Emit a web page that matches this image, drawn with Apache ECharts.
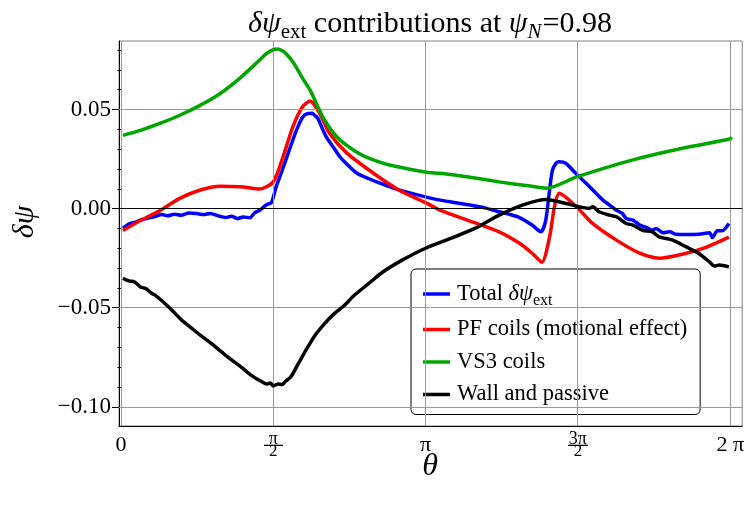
<!DOCTYPE html>
<html>
<head>
<meta charset="utf-8">
<script src="https://cdn.jsdelivr.net/npm/echarts@6/dist/echarts.min.js"></script>
<style>html,body{margin:0;padding:0;background:#fff}#c{width:747px;height:507px}</style>
</head>
<body>
<div id="c"></div>
<script>
// ---- data (theta in radians, value = delta psi) ----
const totalTheta = [0.02,0.08,0.15,0.22,0.28,0.35,0.42,0.48,0.55,0.62,0.70,0.78,0.85,0.92,1.00,1.08,1.14,1.20,1.26,1.33,1.38,1.43,1.50,1.55,1.60,1.66,1.71,1.76,1.81,1.87,1.92,1.97,2.00,2.03,2.08,2.12,2.19,2.26,2.35,2.43,2.55,2.67,2.80,2.95,3.15,3.29,3.45,3.60,3.75,3.90,4.00,4.11,4.24,4.33,4.38,4.42,4.45,4.49,4.52,4.59,4.69,4.80,4.90,4.97,5.04,5.11,5.17,5.21,5.28,5.35,5.42,5.48,5.52,5.59,5.66,5.72,5.83,5.96,6.07,6.10,6.15,6.20,6.27];
const totalVals = [-0.0098,-0.0078,-0.0068,-0.0055,-0.0048,-0.0040,-0.0030,-0.0036,-0.0028,-0.0033,-0.0022,-0.0025,-0.0030,-0.0024,-0.0036,-0.0045,-0.0038,-0.0050,-0.0042,-0.0046,-0.0020,-0.0008,0.0020,0.0030,0.0110,0.0190,0.0260,0.0330,0.0396,0.0460,0.0480,0.0482,0.0470,0.0455,0.0400,0.0360,0.0310,0.0260,0.0215,0.0180,0.0152,0.0129,0.0105,0.0083,0.0058,0.0043,0.0030,0.0018,0.0004,-0.0016,-0.0028,-0.0045,-0.0083,-0.0117,-0.0060,0.0093,0.0194,0.0231,0.0236,0.0228,0.0178,0.0127,0.0077,0.0043,0.0018,-0.0008,-0.0024,-0.0050,-0.0058,-0.0083,-0.0095,-0.0109,-0.0100,-0.0122,-0.0117,-0.0129,-0.0130,-0.0129,-0.0122,-0.0146,-0.0112,-0.0112,-0.0075];

const pfTheta = [0.02,0.20,0.40,0.61,0.81,1.02,1.23,1.43,1.57,1.67,1.77,1.87,1.95,2.05,2.15,2.33,2.60,2.87,3.15,3.29,3.60,3.90,4.11,4.24,4.34,4.42,4.47,4.52,4.70,4.86,5.11,5.35,5.55,5.83,6.04,6.27];
const pfVals = [-0.0110,-0.0060,-0.0010,0.0053,0.0093,0.0113,0.0110,0.0099,0.0135,0.0260,0.0410,0.0513,0.0543,0.0480,0.0380,0.0280,0.0180,0.0093,0.0028,-0.0008,-0.0063,-0.0117,-0.0175,-0.0225,-0.0270,-0.0143,0.0008,0.0078,0.0008,-0.0073,-0.0159,-0.0225,-0.0250,-0.0225,-0.0194,-0.0144];

const vs3Theta = [0.02,0.20,0.40,0.60,0.81,1.02,1.23,1.43,1.50,1.56,1.61,1.66,1.71,1.78,1.87,1.95,2.02,2.08,2.17,2.26,2.40,2.53,2.77,3.15,3.29,3.60,3.90,4.20,4.39,4.70,5.27,5.79,6.27,6.30];
const vs3Vals = [0.0370,0.0395,0.0430,0.0470,0.0520,0.0580,0.0660,0.0750,0.0782,0.0800,0.0805,0.0798,0.0778,0.0735,0.0660,0.0598,0.0525,0.0464,0.0395,0.0346,0.0295,0.0260,0.0220,0.0184,0.0178,0.0158,0.0135,0.0115,0.0103,0.0160,0.0245,0.0305,0.0350,0.0360];

const wallTheta = [0.02,0.08,0.14,0.20,0.26,0.31,0.36,0.41,0.52,0.62,0.72,0.82,0.93,1.03,1.13,1.24,1.34,1.44,1.50,1.54,1.57,1.62,1.66,1.70,1.75,1.82,1.90,2.00,2.10,2.20,2.30,2.40,2.55,2.70,2.90,3.14,3.40,3.65,3.90,4.14,4.385,4.59,4.83,4.865,4.93,5.04,5.11,5.21,5.28,5.38,5.48,5.55,5.69,5.83,5.96,6.07,6.12,6.17,6.27];
const wallVals = [-0.0351,-0.0365,-0.0370,-0.0395,-0.0405,-0.0425,-0.0440,-0.0460,-0.0510,-0.0560,-0.0600,-0.0640,-0.0680,-0.0720,-0.0760,-0.0800,-0.0840,-0.0870,-0.0885,-0.0880,-0.0895,-0.0885,-0.0888,-0.0870,-0.0850,-0.0790,-0.0720,-0.0640,-0.0580,-0.0530,-0.0490,-0.0440,-0.0380,-0.0320,-0.0260,-0.0200,-0.0150,-0.0100,-0.0033,0.0018,0.0046,0.0026,0.0001,0.0009,-0.0016,-0.0033,-0.0041,-0.0075,-0.0083,-0.0109,-0.0117,-0.0142,-0.0159,-0.0193,-0.0226,-0.0269,-0.0290,-0.0285,-0.0294];

const seriesNames = ['Total δψext','PF coils (motional effect)','VS3 coils','Wall and passive'];
const xTickValues = [0, Math.PI/2, Math.PI, 3*Math.PI/2, 2*Math.PI];
const xTickLabels = ['0','π/2','π','3π/2','2 π'];
const yTickValues = [-0.10,-0.05,0.00,0.05];
const yMinorTicks = [-0.11,-0.09,-0.08,-0.07,-0.06,-0.04,-0.03,-0.02,-0.01,0.01,0.02,0.03,0.04,0.06,0.07,0.08];

const zip = (a,b) => a.map((t,i)=>[t,b[i]]);
const serif = 'Liberation Serif';

// small image used as the fraction bar under a numerator
const barImg = document.createElement('canvas');
barImg.width = 20; barImg.height = 14;
(function(){ const g = barImg.getContext('2d'); g.fillStyle = '#000'; g.fillRect(0, 13, 20, 1); })();

function xLabel(v){
  let idx = 0, best = 1e9;
  xTickValues.forEach((t,i)=>{ const d=Math.abs(t-v); if(d<best){best=d;idx=i;} });
  const s = xTickLabels[idx];
  if (s.indexOf('/')>=0){
    const p = s.split('/');
    return '{num|'+p[0]+'}\n{den|'+p[1]+'}';
  }
  return '{r|'+s+'}';
}

const chart = echarts.init(document.getElementById('c'), null, {renderer:'canvas'});
const lineW = 3.5;
const mk = (name, th, vals, color, z) => ({
  name, type:'line', data: zip(th, vals), showSymbol:false, symbol:'none',
  lineStyle:{color, width:lineW}, itemStyle:{color}, smooth:0.25, z, animation:false,
  emphasis:{disabled:true}
});
const gridColor = '#9a9a9a';
chart.setOption({
  animation:false,
  textStyle:{fontFamily:serif},
  grid:{left:119, right:4, top:41, bottom:81, show:true, borderColor:'#808080', borderWidth:1, backgroundColor:'transparent'},
  title:{
    text:'{i|δψ}{s|ext}{a| contributions at }{i|ψ}{si|N}{a|=0.98}',
    left:430, top:6, padding:0, textAlign:'center',
    textStyle:{
      fontFamily:serif, fontWeight:'normal', color:'#000',
      rich:{
        a:{fontFamily:serif, fontSize:30, lineHeight:36, color:'#000'},
        i:{fontFamily:serif, fontSize:30, lineHeight:36, fontStyle:'italic', color:'#000'},
        s:{fontFamily:serif, fontSize:21, lineHeight:36, verticalAlign:'top', padding:[16,0,0,0], color:'#000'},
        si:{fontFamily:serif, fontSize:21, lineHeight:36, fontStyle:'italic', verticalAlign:'top', padding:[16,1,0,0], color:'#000'}
      }
    }
  },
  legend:{
    orient:'vertical', left:411, top:269,
    data: seriesNames,
    icon:'rect', itemWidth:27, itemHeight:3.5, itemGap:8.5,
    padding:[13,13,8,12],
    backgroundColor:'#fff', borderColor:'#000', borderWidth:1, borderRadius:5,
    selectedMode:false,
    formatter:function(n){
      if(n===seriesNames[0]) return '{a|Total }{i|δψ}{s|ext}';
      return '{a|'+n+'}';
    },
    textStyle:{
      fontFamily:serif, fontSize:22.5, color:'#000', lineHeight:24, padding:[0,0,0,2],
      rich:{
        a:{fontFamily:serif, fontSize:22.5, lineHeight:24, color:'#000'},
        i:{fontFamily:serif, fontSize:22.5, lineHeight:24, fontStyle:'italic', color:'#000'},
        s:{fontFamily:serif, fontSize:16, lineHeight:24, verticalAlign:'top', padding:[11,0,0,0], color:'#000'}
      }
    }
  },
  xAxis:{
    type:'value', min:-0.021, max:6.407,
    axisLine:{show:true, onZero:false, lineStyle:{color:'#000', width:1}},
    axisTick:{show:false},
    splitLine:{show:false},
    axisLabel:{
      customValues: xTickValues, margin:8, color:'#000', fontFamily:serif,
      formatter: xLabel,
      rich:{
        r:{fontFamily:serif, fontSize:22, color:'#000'},
        num:{fontFamily:serif, fontSize:18, lineHeight:11, height:11, color:'#000', align:'center', padding:[0,1,1,1], backgroundColor:{image:barImg}},
        den:{fontFamily:serif, fontSize:17, lineHeight:13, color:'#000', align:'center'}
      }
    }
  },
  yAxis:[{
    type:'value', min:-0.1097, max:0.0846,
    axisLine:{show:true, onZero:false, lineStyle:{color:'#000', width:1}},
    axisTick:{show:true, customValues:yTickValues, length:7, inside:false, lineStyle:{color:'#000'}},
    splitLine:{show:false},
    axisLabel:{
      customValues:yTickValues, margin:8, color:'#000', fontFamily:serif, fontSize:23,
      formatter:function(v){ return (v<0?'\u2212':'')+Math.abs(v).toFixed(2); }
    }
  },{
    type:'value', min:-0.1097, max:0.0846, position:'left',
    axisLine:{show:false},
    axisTick:{show:true, customValues:yMinorTicks, length:3.5, inside:false, lineStyle:{color:'#000'}},
    axisLabel:{show:false},
    splitLine:{show:false}
  }],
  graphic:[
    {type:'text', x:25, y:222, rotation:Math.PI/2, style:{text:'δψ', fontFamily:serif, fontStyle:'italic', fontSize:30, fill:'#000', align:'center', verticalAlign:'middle'}},
    {type:'text', x:430, y:467, style:{text:'θ', fontFamily:serif, fontStyle:'italic', fontSize:32, fill:'#000', align:'center', verticalAlign:'middle'}}
  ],
  series:[
    {
      name:'_grid', type:'line', data:[], z:1, silent:true, animation:false,
      markLine:{
        silent:true, symbol:['none','none'], label:{show:false}, animation:false,
        lineStyle:{color:gridColor, width:1, type:'solid'},
        emphasis:{disabled:true},
        data:[
          ...xTickValues.map(v=>({xAxis:v})),
          ...[0.05,-0.05,-0.10].map(v=>({yAxis:v})),
          {yAxis:0, lineStyle:{color:'#000', width:1}}
        ]
      }
    },
    mk(seriesNames[0], totalTheta, totalVals, '#0000ff', 3),
    mk(seriesNames[1], pfTheta, pfVals, '#ff0000', 4),
    mk(seriesNames[2], vs3Theta, vs3Vals, '#00a600', 5),
    mk(seriesNames[3], wallTheta, wallVals, '#000000', 6)
  ]
});
</script>
</body>
</html>
